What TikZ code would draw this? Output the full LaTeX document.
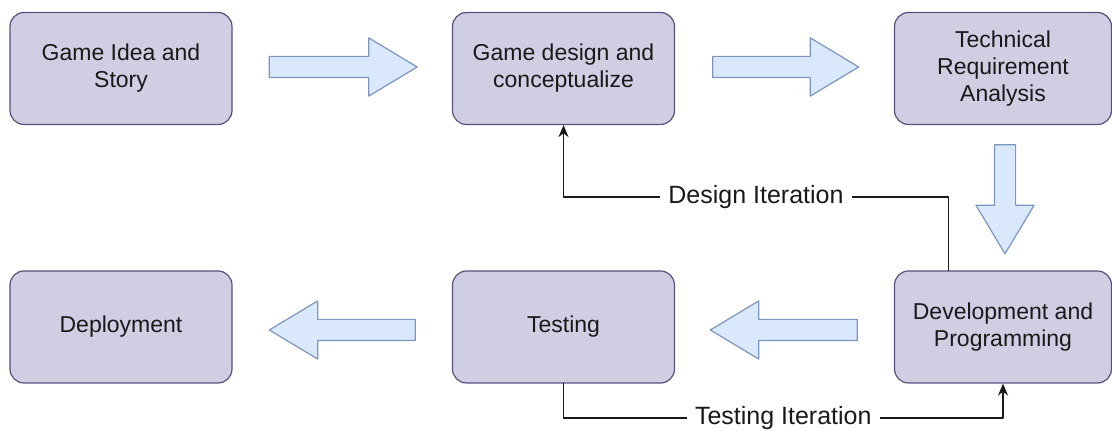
\documentclass[tikz,border=0pt]{standalone}
\usepackage{fontspec}
\setmainfont{Liberation Sans}
\usetikzlibrary{arrows.meta,calc,positioning,shapes.arrows}
\definecolor{stagefill}{RGB}{208,206,226}
\definecolor{stageline}{RGB}{86,81,126}
\definecolor{flowfill}{RGB}{218,232,252}
\definecolor{flowline}{RGB}{125,150,190}
\definecolor{textgray}{RGB}{25,25,25}

\begin{document}
\begin{tikzpicture}[x=.5pt,y=-.5pt,>=Stealth,line cap=round,line join=round,
  stagebox/.style={draw=stageline,fill=stagefill,line width=.6pt,
   rounded corners=7pt,minimum width=111pt,minimum height=56pt,
   align=center,text=textgray,font=\fontsize{11.5}{13.5}\selectfont},
  flowarrow/.style={single arrow,draw=flowline,fill=flowfill,line width=.6pt,
   inner xsep=0pt,inner ysep=5pt,single arrow head extend=9.25pt,
   single arrow tip angle=62,anchor=tail},
  iterline/.style={draw=textgray,line width=.75pt,
   -{Stealth[length=6pt,width=5pt]}},
  iterlabel/.style={fill=white,inner sep=4pt,text=textgray,
   font=\fontsize{12.5}{15}\selectfont}]
 \useasboundingbox (0,0) rectangle (1112,431);
 % top row
 \node[stagebox] (idea) at (121,68.5) {Game Idea and\\Story};
 \node[stagebox] (design) at (563.5,68.5) {Game design and\\conceptualize};
 \node[stagebox,minimum width=108.5pt] (tech) at (1003,68.5)
  {Technical\\Requirement\\Analysis};
 % bottom row
 \node[stagebox] (deploy) at (121,327) {Deployment};
 \node[stagebox] (testing) at (563.5,327) {Testing};
 \node[stagebox,minimum width=108.5pt] (dev) at (1003,327)
  {Development and\\Programming};
 % block arrows between the stages
 \node[flowarrow,minimum height=74pt] (f1)
  at ([xshift=18pt,yshift=.75pt]idea.east) {};
 \node[flowarrow,minimum height=73pt] (f2)
  at ([xshift=18.5pt,yshift=.75pt]design.east) {};
 \node[flowarrow,minimum height=54.5pt,rotate=-90] (f3)
  at ([xshift=1pt,yshift=-9.5pt]tech.south) {};
 \node[flowarrow,minimum height=73.5pt,rotate=180] (f4)
  at ([xshift=-18pt,yshift=-1.5pt]dev.west) {};
 \node[flowarrow,minimum height=73pt,rotate=180] (f5)
  at ([xshift=-18pt,yshift=-1.5pt]testing.west) {};
 % iteration loops
 \coordinate (dturn) at (0,197);
 \coordinate (tturn) at (0,418);
 \coordinate (devtop) at ($(dev.north west)!.25!(dev.north east)$);
 \draw[iterline] (devtop) -- (devtop |- dturn)
  -- (design.south |- dturn)
  node[midway,iterlabel] {Design Iteration}
  -- (design.south);
 \draw[iterline] (testing.south) -- (testing.south |- tturn)
  -- (dev.south |- tturn)
  node[midway,iterlabel] {Testing Iteration}
  -- (dev.south);
\end{tikzpicture}
\end{document}
